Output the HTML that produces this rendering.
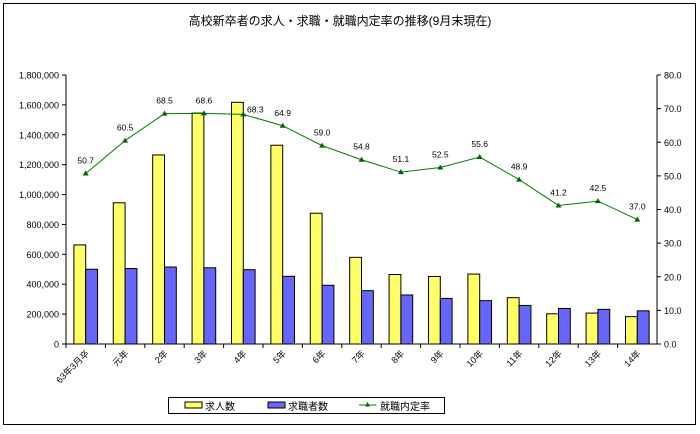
<!DOCTYPE html>
<html><head><meta charset="utf-8">
<style>
body{margin:0;background:#fff;width:700px;height:429px;overflow:hidden;font-family:"Liberation Sans","Noto Sans CJK JP",sans-serif;}
svg text{font-family:"Liberation Sans","Noto Sans CJK JP",sans-serif;}
</style></head><body>
<svg id="c" width="700" height="429" xmlns="http://www.w3.org/2000/svg">
<rect x="3.5" y="3.5" width="692" height="421" fill="#fff" stroke="#000"/>
<text x="340" y="25" font-size="12" text-anchor="middle">高校新卒者の求人・求職・就職内定率の推移(9月末現在)</text>
<g id="plot"></g>
<g>
<rect x="168.5" y="397.5" width="276" height="16" fill="#fff" stroke="#000"/>
<rect x="185" y="402" width="17" height="6" fill="#ffff66" stroke="#000"/>
<text x="205" y="410" font-size="10">求人数</text>
<rect x="268" y="402" width="17" height="6" fill="#6666ff" stroke="#000"/>
<text x="288" y="410" font-size="10">求職者数</text>
<line x1="359" y1="405" x2="376" y2="405" stroke="#008000"/>
<polygon points="367.5,402 370,406.5 365,406.5" fill="#006400"/>
<text x="380" y="410" font-size="10">就職内定率</text>
</g>
</svg>
<script>
const categories=["63年3月卒","元年","2年","3年","4年","5年","6年","7年","8年","9年","10年","11年","12年","13年","14年"];
const jobs=[663000,945000,1265000,1545000,1617000,1330000,875000,580000,465000,452000,468000,310000,202000,207000,183000];
const seekers=[500000,505000,515000,510000,497000,453000,393000,357000,328000,305000,290000,258000,238000,232000,222000];
const rate=[50.7,60.5,68.5,68.6,68.3,64.9,59.0,54.8,51.1,52.5,55.6,48.9,41.2,42.5,37.0];
const leftTicks=["0","200,000","400,000","600,000","800,000","1,000,000","1,200,000","1,400,000","1,600,000","1,800,000"];
const rightTicks=["0.0","10.0","20.0","30.0","40.0","50.0","60.0","70.0","80.0"];
const X0=66,X1=657,Y0=344,Y1=75;
const gw=(X1-X0)/categories.length;
const yL=v=>Y0-(v/1800000)*(Y0-Y1);
const yR=v=>Y0-(v/80)*(Y0-Y1);
const xC=i=>X0+gw*(i+0.5);
const g=document.getElementById('plot');
const NS="http://www.w3.org/2000/svg";
function mk(t,a){const e=document.createElementNS(NS,t);for(const k in a)e.setAttribute(k,a[k]);g.appendChild(e);return e;}
// axes
let e=mk('line',{x1:X0,y1:Y1,x2:X0,y2:Y0,stroke:'#000'});


e=mk('line',{x1:X1,y1:Y1,x2:X1,y2:Y0,stroke:'#000'});


e=mk('line',{x1:X0,y1:Y0,x2:X1,y2:Y0,stroke:'#000'});


leftTicks.forEach((t,i)=>{const y=yL(i*200000);
 mk('line',{x1:X0-4,y1:y,x2:X0,y2:y,stroke:'#000'});
 const tx=mk('text',{x:X0-7,y:y+3.5,'font-size':9,'text-anchor':'end'});tx.textContent=t;
 
 });
rightTicks.forEach((t,i)=>{const y=yR(i*10);
 mk('line',{x1:X1,y1:y,x2:X1+4,y2:y,stroke:'#000'});
 const tx=mk('text',{x:X1+7,y:y+3.5,'font-size':9});tx.textContent=t;
 
 });
categories.forEach((c,i)=>{
 const xt=X0+gw*i;mk('line',{x1:xt,y1:Y0,x2:xt,y2:Y0+4,stroke:'#000'});
 const bw=gw*0.3,cx=xC(i);
 const b1=mk('rect',{x:cx-bw,y:yL(jobs[i]),width:bw,height:Y0-yL(jobs[i]),fill:'#ffff66',stroke:'#000','stroke-width':1});
 
 
 const b2=mk('rect',{x:cx,y:yL(seekers[i]),width:bw,height:Y0-yL(seekers[i]),fill:'#6666ff',stroke:'#000','stroke-width':1});
 
 
 const tx=mk('text',{x:0,y:0,'font-size':9,'text-anchor':'end',transform:`translate(${cx+4},${Y0+10}) rotate(-45)`});tx.textContent=c;
 
 
});
const ln=mk('polyline',{points:rate.map((v,i)=>xC(i)+','+yR(v)).join(' '),fill:'none',stroke:'#008000','stroke-width':1});


rate.forEach((v,i)=>{const x=xC(i),y=yR(v);
 const p=mk('polygon',{points:`${x},${y-3} ${x+3},${y+2} ${x-3},${y+2}`,fill:'#006400'});
 
 
 const dx=(i==4)?12:0;
 const tx=mk('text',{x:x+dx,y:y-(i==4?0:10)+(i==4?-2:0),'font-size':8.5,'text-anchor':'middle'});tx.textContent=v.toFixed(1);
 
 
});
</script>
</body></html>
